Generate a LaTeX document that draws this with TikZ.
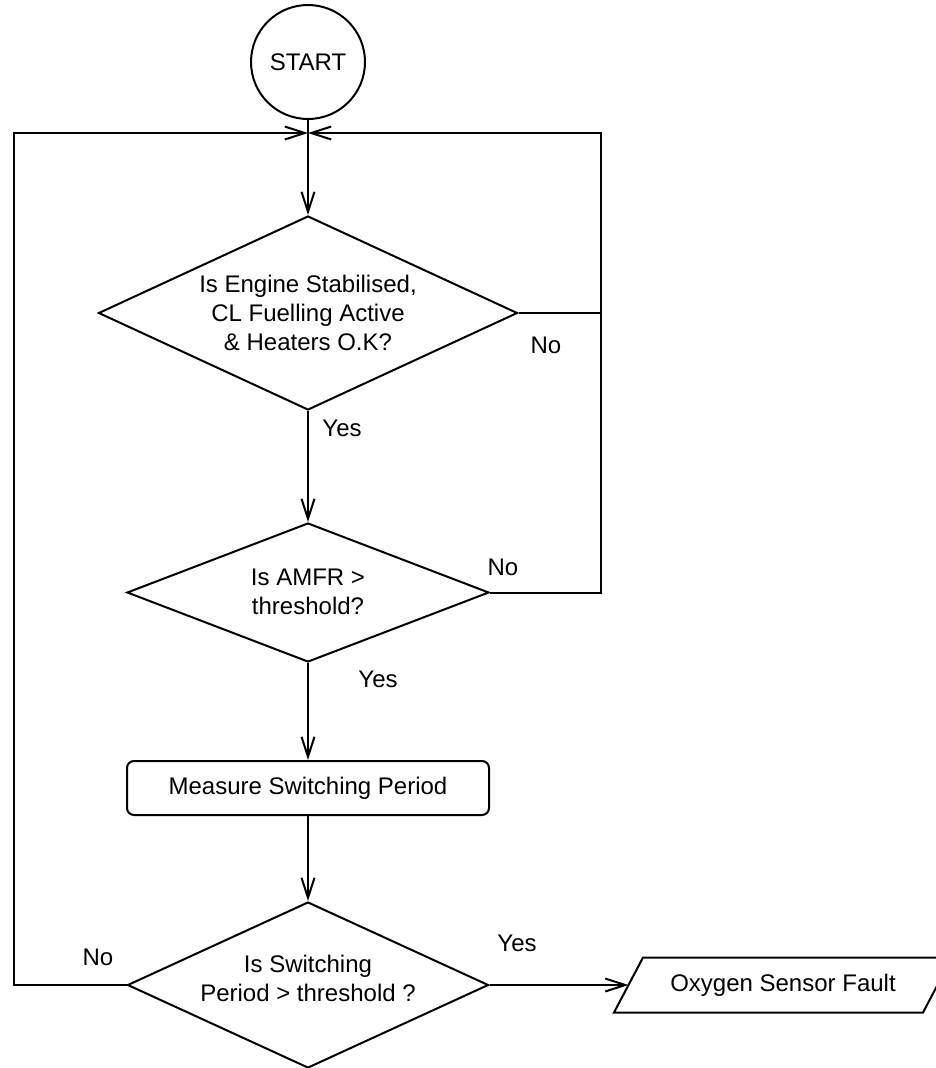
\documentclass[tikz,border=0pt]{standalone}
\usepackage{fontspec}
\setmainfont{Liberation Sans}
\usetikzlibrary{shapes.geometric,arrows.meta}
\begin{document}
\begin{tikzpicture}[x=1pt,y=-1pt,
  line width=2pt,
  every node/.style={font=\fontsize{24}{29}\selectfont},
  arr/.style={-{Straight Barb[length=20pt,width=13pt]}},
  decision/.style={draw, shape=diamond, inner sep=0pt},
  label text/.style={inner sep=0pt, align=center},
  process/.style={draw, rectangle, rounded corners=7pt, inner sep=0pt,
    minimum width=362pt, minimum height=54pt}
]
\useasboundingbox (0,0) rectangle (936,1068);

% terminal and decisions
\node[draw, circle, minimum size=114pt, inner sep=0pt] (start) at (308,62) {START};

\node[decision, minimum width=419pt, minimum height=194pt] (d1) at (308,313) {};
\node[label text] (t1) at (308,313) {Is Engine Stabilised,\\CL Fuelling Active\\\& Heaters O.K?};

\node[decision, minimum width=362pt, minimum height=139pt] (d2) at (308,592.5) {};
\node[label text] (t2) at (308,592) {Is AMFR >\\threshold?};

\node[process] (meas) at (308,788) {Measure Switching Period};

\node[decision, minimum width=361pt, minimum height=166pt] (d3) at (308,985) {};
\node[label text] (t3) at (308,978) {Is Switching\\Period > threshold ?};

% output box: slanted parallelogram around its text
\node[label text] (fault) at (783,985) {Oxygen Sensor Fault};
\draw (643,957.5) -- (952,957.5) -- (923,1012.5) -- (614,1012.5) -- cycle;
\coordinate (faultin) at (628.5,985);

% branch labels
\node[label text] (no1) at (546,345) {No};
\node[label text] (yes1) at (342,428) {Yes};
\node[label text] (no2) at (503,567) {No};
\node[label text] (yes2) at (378,679) {Yes};
\node[label text] (no3) at (98,957) {No};
\node[label text] (yes3) at (517,943) {Yes};

% loop junction and corners
\coordinate (j) at (308,133);
\coordinate (ll) at (14,133);
\coordinate (rr) at (601,133);

% main flow
\draw[arr] (start) -- (d1);
\draw[arr] (d1) -- (d2);
\draw[arr] (d2) -- (meas);
\draw[arr] (meas) -- (d3);
\draw[arr] (d3.east) -- (faultin);

% return loops
\draw[arr] (d3.west) -| (ll) -- (j);
\draw[arr] (d1.east) -| (rr) -- (j);
\draw (d2.east) -| (rr);
\end{tikzpicture}
\end{document}
